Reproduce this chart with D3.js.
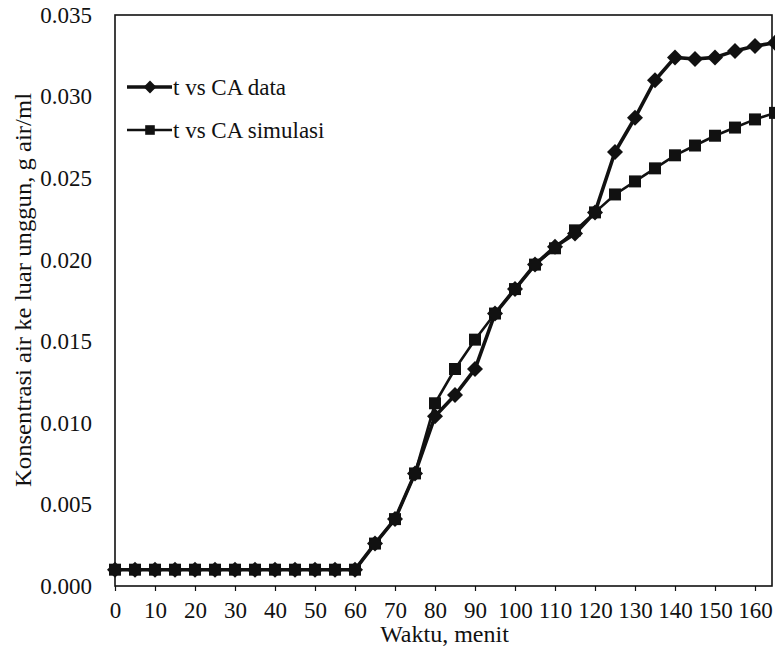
<!DOCTYPE html>
<html>
<head>
<meta charset="utf-8">
<script src="https://cdn.jsdelivr.net/npm/d3@7/dist/d3.min.js"></script>
<style>
  html, body { margin: 0; padding: 0; background: #fff; }
  svg text { font-family: "Liberation Serif", Tinos, "Times New Roman", Times, "DejaVu Serif", serif !important; fill: #111; }
</style>
</head>
<body>
<svg id="chart" width="775" height="650"></svg>
<script>
// ---- data ----
const times = [0,5,10,15,20,25,30,35,40,45,50,55,60,65,70,75,80,85,90,95,100,105,110,115,120,125,130,135,140,145,150,155,160,165];
const caData = [0.001,0.001,0.001,0.001,0.001,0.001,0.001,0.001,0.001,0.001,0.001,0.001,0.001,
  0.0026,0.0041,0.0069,0.0104,0.0117,0.0133,0.0167,0.0182,0.0197,0.0208,0.0216,0.0229,
  0.0266,0.0287,0.0310,0.0324,0.0323,0.0324,0.0328,0.0331,0.0333];
const caSim = [0.001,0.001,0.001,0.001,0.001,0.001,0.001,0.001,0.001,0.001,0.001,0.001,0.001,
  0.0026,0.0041,0.0069,0.0112,0.0133,0.0151,0.0167,0.0182,0.0197,0.0207,0.0218,0.0229,
  0.0240,0.0248,0.0256,0.0264,0.0270,0.0276,0.0281,0.0286,0.0290];
const xTicks = [0,10,20,30,40,50,60,70,80,90,100,110,120,130,140,150,160];
const yTicks = [0,0.005,0.010,0.015,0.020,0.025,0.030,0.035];
const seriesNames = ["t vs CA data", "t vs CA simulasi"];
const xTitle = "Waktu, menit";
const yTitle = "Konsentrasi air ke luar unggun, g air/ml";

// ---- layout ----
const FONT = "'Liberation Serif', Tinos, 'Times New Roman', Times, 'DejaVu Serif', serif";
const pL = 115, pR = 772, pT = 15, pB = 586;
const svg = d3.select("#chart");

const x = d3.scaleLinear().domain([0, 164.25]).range([pL, pR]);
const y = d3.scaleLinear().domain([0, 0.035]).range([pB, pT]);

// custom diamond (rotated square)
const diamond = {
  draw(ctx, size) {
    const r = Math.sqrt(size / 2);
    ctx.moveTo(0, -r); ctx.lineTo(r, 0); ctx.lineTo(0, r); ctx.lineTo(-r, 0); ctx.closePath();
  }
};
const diamondPath = d3.symbol().type(diamond).size(128)();
const squarePath = d3.symbol().type(d3.symbolSquare).size(144)();

// frame
svg.append("rect")
  .attr("x", pL).attr("y", pT)
  .attr("width", pR - pL).attr("height", pB - pT)
  .attr("fill", "none").attr("stroke", "#111").attr("stroke-width", 1.6);

// x axis
const xAxis = svg.append("g")
  .attr("transform", `translate(0,${pB})`)
  .call(d3.axisBottom(x).tickValues(xTicks).tickSize(5).tickPadding(11).tickFormat(d3.format("d")));
xAxis.attr("font-family", FONT);
xAxis.select(".domain").remove();
xAxis.selectAll("line").attr("stroke", "#111").attr("stroke-width", 1.2);
xAxis.selectAll("text").attr("font-size", 23).attr("font-family", FONT);

// y axis
const yAxis = svg.append("g")
  .attr("transform", `translate(${pL},0)`)
  .call(d3.axisLeft(y).tickValues(yTicks).tickSize(0).tickPadding(23).tickFormat(d3.format(".3f")));
yAxis.attr("font-family", FONT);
yAxis.select(".domain").remove();
yAxis.selectAll("text").attr("font-size", 23).attr("font-family", FONT);

// titles
svg.append("text")
  .attr("x", (pL + pR) / 2 + 1).attr("y", 642)
  .attr("text-anchor", "middle").attr("font-size", 24).attr("font-family", FONT)
  .text(xTitle);
svg.append("text")
  .attr("transform", `translate(31,290) rotate(-90)`)
  .attr("text-anchor", "middle").attr("font-size", 23).attr("font-family", FONT)
  .attr("textLength", 394).attr("lengthAdjust", "spacingAndGlyphs")
  .text(yTitle);

// lines
const line = (vals) => d3.line().x((d, i) => x(times[i])).y(d => y(d))(vals);

svg.append("path").attr("d", line(caSim))
  .attr("fill", "none").attr("stroke", "#111").attr("stroke-width", 2.6);
svg.append("path").attr("d", line(caData))
  .attr("fill", "none").attr("stroke", "#111").attr("stroke-width", 3.6);

svg.append("g").selectAll("path").data(caSim).join("path")
  .attr("d", squarePath)
  .attr("transform", (d, i) => `translate(${x(times[i])},${y(d)})`)
  .attr("fill", "#111");
svg.append("g").selectAll("path").data(caData).join("path")
  .attr("d", diamondPath)
  .attr("transform", (d, i) => `translate(${x(times[i])},${y(d)})`)
  .attr("fill", "#111");

// legend
const legend = svg.append("g");
const legY = [87, 130];
const legPaths = [diamondPath, squarePath];
const legW = [3.6, 2.6];
seriesNames.forEach((name, i) => {
  legend.append("line")
    .attr("x1", 127).attr("x2", 172).attr("y1", legY[i]).attr("y2", legY[i])
    .attr("stroke", "#111").attr("stroke-width", legW[i]);
  legend.append("path").attr("d", legPaths[i])
    .attr("transform", `translate(150,${legY[i]}) scale(0.8)`).attr("fill", "#111");
  legend.append("text")
    .attr("x", 173).attr("y", legY[i]).attr("dy", "0.33em")
    .attr("font-size", 23).attr("font-family", FONT)
    .text(name);
});
</script>
</body>
</html>
